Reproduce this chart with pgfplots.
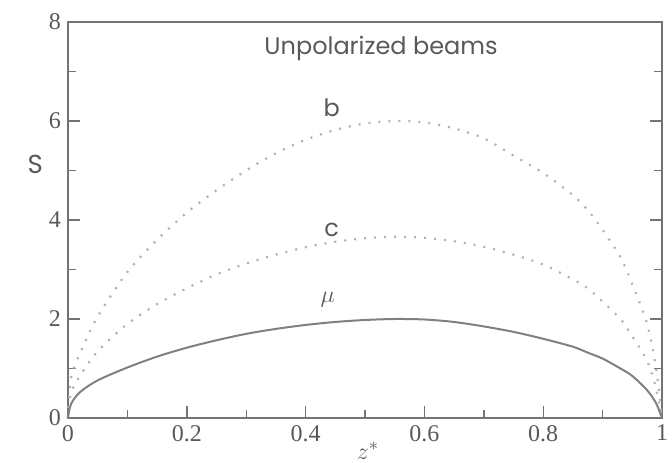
\documentclass[border=0pt]{standalone}
\usepackage{fontspec}
\setmainfont{Liberation Serif}
\newfontfamily\gfont{Poppins}
\usepackage{pgfplots}
\pgfplotsset{compat=1.18}
\usetikzlibrary{calc}

\definecolor{axcol}{gray}{0.45}
\definecolor{txtcol}{gray}{0.35}
\definecolor{mucol}{gray}{0.50}
\definecolor{dotcol}{gray}{0.70}

% S(z*) curves
\pgfplotstableread{
z     mu    b     c
0.000 0.00  0.00  0.00
0.005 0.28  0.80  0.50
0.020 0.52  1.30  0.85
0.050 0.76  2.05  1.35
0.100 1.02  2.95  1.90
0.150 1.24  3.60  2.30
0.200 1.42  4.15  2.62
0.250 1.57  4.60  2.90
0.300 1.70  5.00  3.12
0.350 1.80  5.35  3.30
0.400 1.88  5.62  3.45
0.450 1.94  5.82  3.56
0.500 1.98  5.95  3.63
0.550 2.00  6.00  3.66
0.600 1.99  5.97  3.64
0.650 1.94  5.85  3.57
0.700 1.85  5.65  3.46
0.750 1.74  5.30  3.30
0.800 1.60  4.95  3.10
0.850 1.44  4.50  2.80
0.875 1.32  4.20  2.62
0.900 1.20  3.80  2.35
0.930 1.00  3.25  2.00
0.950 0.85  2.70  1.65
0.975 0.56  1.90  1.15
0.990 0.30  1.00  0.60
1.000 0.00  0.00  0.00
}\curves

\begin{document}
\begin{tikzpicture}
\begin{axis}[
  scale only axis, width=297pt, height=198pt,
  xmin=0, xmax=1, ymin=0, ymax=8,
  xtick={0,0.2,0.4,0.6,0.8,1},
  xticklabels={0,0.2,0.4,0.6,0.8,1},
  ytick={0,2,4,6,8},
  minor xtick={0.1,0.3,0.5,0.7,0.9},
  minor ytick={1,3,5,7},
  xtick pos=bottom, ytick pos=both,
  tick align=inside,
  major tick length=6pt, minor tick length=4pt,
  axis line style={draw=axcol, line width=0.8pt},
  every tick/.style={draw=axcol, line width=0.7pt},
  tick label style={font=\fontsize{12}{14}\selectfont, text=txtcol},
  /pgf/number format/assume math mode=true,
  clip=false,
]
\addplot[dotcol, line width=1.1pt, dash pattern=on 1pt off 4pt, smooth] table[x=z, y=b] {\curves};
\addplot[dotcol, line width=1.1pt, dash pattern=on 1pt off 4pt, smooth] table[x=z, y=c] {\curves};
\addplot[mucol, line width=1pt, smooth] table[x=z, y=mu] {\curves};

\node[text=txtcol, font=\gfont\fontsize{12}{14}\selectfont] at (axis cs:0.527,7.46) {Unpolarized beams};
\node[text=txtcol, font=\gfont\fontsize{12}{14}\selectfont] at (axis cs:0.444,6.26) {b};
\node[text=txtcol, font=\gfont\fontsize{12}{14}\selectfont] at (axis cs:0.444,3.80) {c};
\node[text=txtcol, font=\fontsize{12}{14}\selectfont] at (axis cs:0.437,2.40) {$\mu$};
\node[text=txtcol, font=\gfont\fontsize{13}{15}\selectfont] at (axis description cs:-0.055,0.64) {S};
\node[text=txtcol, font=\fontsize{13}{15}\selectfont] at (axis description cs:0.505,-0.083) {$z^{\ast}$};
\end{axis}
\pgfresetboundingbox
\path[use as bounding box] ($(current axis.south west)+(-34pt,-22.5pt)$) rectangle ($(current axis.north east)+(5pt,11pt)$);
\end{tikzpicture}
\end{document}
